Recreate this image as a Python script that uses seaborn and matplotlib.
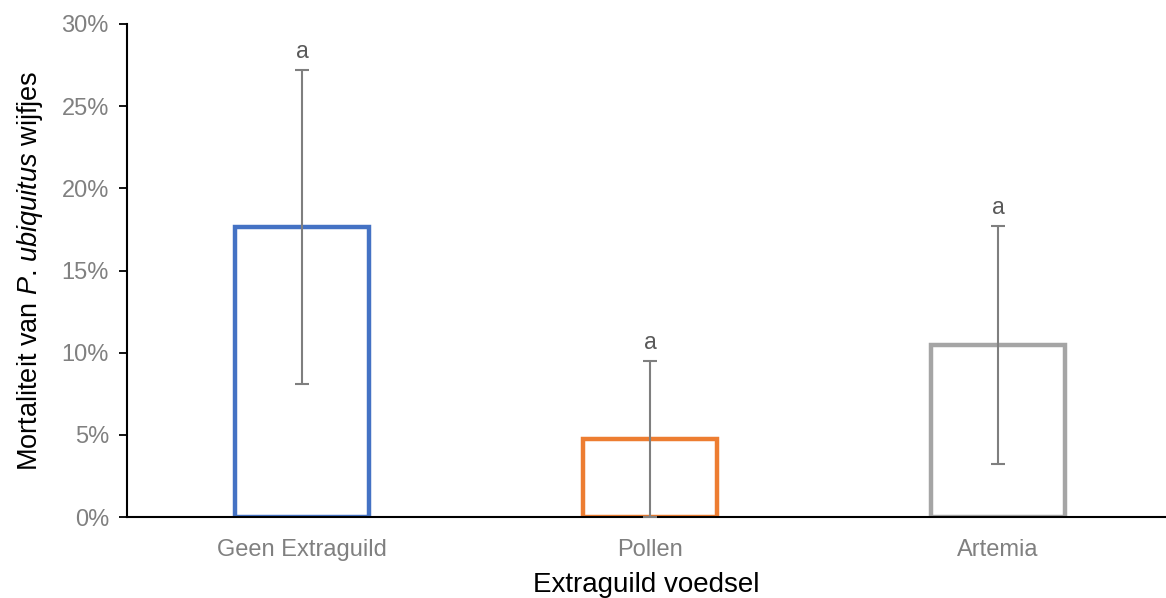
import matplotlib
matplotlib.use("Agg")
import matplotlib.pyplot as plt
import seaborn as sns
import pandas as pd
from matplotlib.ticker import PercentFormatter

categories = ["Geen Extraguild", "Pollen", "Artemia"]
mortality = [17.65, 4.75, 10.47]
err = [9.55, 4.75, 7.25]
letters = ["a", "a", "a"]
colors = ["#4472C4", "#ED7D31", "#A5A5A5"]

sns.set_theme(style="white")
plt.rcParams['font.family'] = ['Liberation Sans', 'DejaVu Sans']
plt.rcParams['mathtext.fontset'] = 'custom'
plt.rcParams['mathtext.it'] = 'Liberation Sans:italic'
plt.rcParams['mathtext.rm'] = 'Liberation Sans'

df = pd.DataFrame({"cat": categories, "val": mortality})

fig = plt.figure(figsize=(11.66, 5.98), dpi=100)
ax = fig.add_axes([127/1166, 81/598, 1039/1166, 493/598])

sns.barplot(data=df, x="cat", y="val", hue="cat", palette=colors, fill=False,
            linewidth=3.2, width=0.385, ax=ax, legend=False, errorbar=None)

ax.errorbar(range(len(categories)), mortality, yerr=err, fmt="none",
            ecolor="#7F7F7F", elinewidth=1.5, capsize=5, capthick=1.5, zorder=5)

for i, (m, e, l) in enumerate(zip(mortality, err, letters)):
    ax.annotate(l, (i, m + e), xytext=(0, 5), textcoords="offset points",
                ha="center", va="bottom", fontsize=16.5, color="#595959")

ax.set_ylim(0, 30)
ax.set_xlim(-0.503, 2.483)
ax.set_yticks([0, 5, 10, 15, 20, 25, 30])
ax.yaxis.set_major_formatter(PercentFormatter(decimals=0))
ax.tick_params(axis="y", which="major", direction="out", length=6, width=1.3,
               color="black", labelsize=17, labelcolor="#808080", left=True, pad=7)
ax.tick_params(axis="x", length=0, labelsize=17, labelcolor="#808080", pad=16)

for s in ["top", "right"]:
    ax.spines[s].set_visible(False)
for s in ["left", "bottom"]:
    ax.spines[s].set_color("black")
    ax.spines[s].set_linewidth(1.5)

ax.set_xlabel("Extraguild voedsel", fontsize=20, color="black", labelpad=8)
ax.set_ylabel(r"Mortaliteit van $\it{P}$. $\it{ubiquitus}$ wijfjes", fontsize=19.5,
              color="black", labelpad=12)

fig.savefig("out.png", dpi=100)
